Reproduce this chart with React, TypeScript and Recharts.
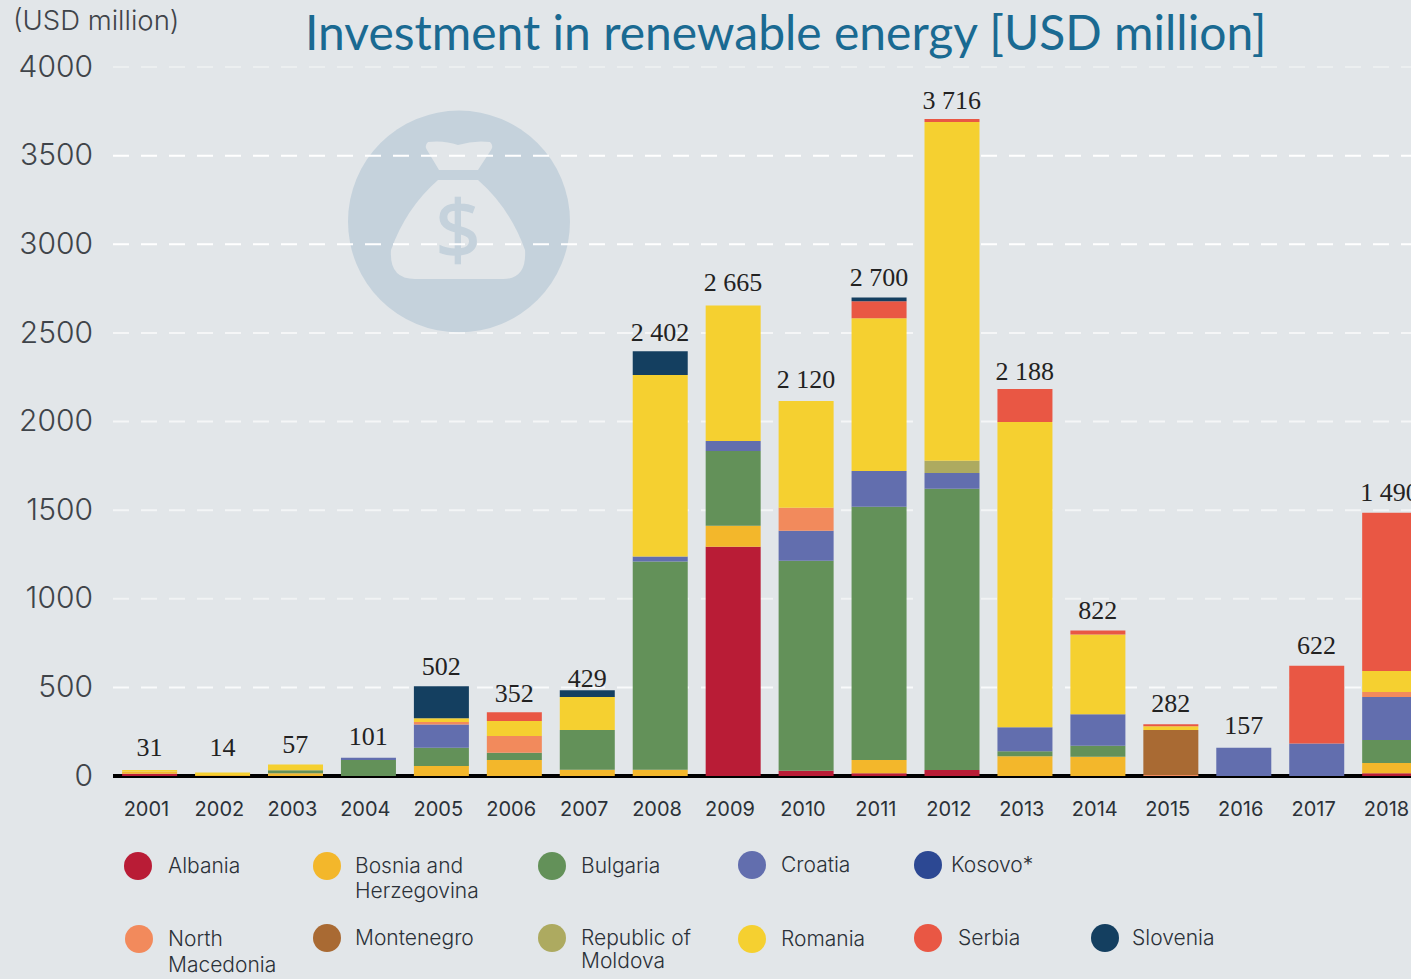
import { ComposedChart, Bar, Line, XAxis, YAxis, CartesianGrid, LabelList } from "recharts";

const years = ["2001","2002","2003","2004","2005","2006","2007","2008","2009","2010","2011","2012","2013","2014","2015","2016","2017","2018"];
const totals = ["31","14","57","101","502","352","429","2 402","2 665","2 120","2 700","3 716","2 188","822","282","157","622","1 490"];
// height the total label sits at
const labelAt = [112,112,132,175,570,417,503,2454,2735,2190,2765,3763,2232,885,362,237,690,1550];

const albania = [12,0,0,0,0,0,0,0,1294,30,15,34,0,0,0,0,0,15];
const bosnia = [14,6,15,0,56,90,35,35,118,0,75,0,112,109,0,0,0,58];
const bulgaria = [0,0,18,90,103,41,224,1175,422,1185,1429,1586,28,61,0,0,0,130];
const croatia = [0,0,0,13,132,0,0,28,56,169,202,90,135,179,0,159,184,243];
const kosovo = [0,0,0,0,0,0,0,0,0,0,0,0,0,0,0,0,0,0];
const macedonia = [0,0,0,0,14,94,0,0,0,129,0,0,0,0,5,0,0,28];
const montenegro = [0,0,0,0,0,0,0,0,0,0,0,0,0,0,255,0,0,0];
const moldova = [0,0,0,0,0,0,0,0,0,0,0,68,0,0,0,0,0,0];
const romania = [8,14,32,0,21,86,186,1024,765,602,861,1912,1722,450,20,0,0,118];
const serbia = [0,0,0,0,0,49,0,0,0,0,96,17,186,22,12,0,438,893];
const slovenia = [0,0,0,0,180,0,39,135,0,0,22,0,0,0,0,0,0,0];

const yTicks = [0,500,1000,1500,2000,2500,3000,3500,4000];
// the white gridlines fade unevenly in the scan
const gridOpacity = [0,0.8,0.5,0.6,0.65,0.65,1,1,0.35];

const series = [
  { key: "albania", name: "Albania", values: albania, color: "#b91c36" },
  { key: "bosnia", name: "Bosnia and\nHerzegovina", values: bosnia, color: "#f3b72b" },
  { key: "bulgaria", name: "Bulgaria", values: bulgaria, color: "#639159" },
  { key: "croatia", name: "Croatia", values: croatia, color: "#626eae" },
  { key: "kosovo", name: "Kosovo*", values: kosovo, color: "#2c4893" },
  { key: "macedonia", name: "North\nMacedonia", values: macedonia, color: "#f28a5c" },
  { key: "montenegro", name: "Montenegro", values: montenegro, color: "#a96a33" },
  { key: "moldova", name: "Republic of\nMoldova", values: moldova, color: "#adaa60" },
  { key: "romania", name: "Romania", values: romania, color: "#f5d030" },
  { key: "serbia", name: "Serbia", values: serbia, color: "#e95744" },
  { key: "slovenia", name: "Slovenia", values: slovenia, color: "#143f60" },
];

// circle x, circle y, text x, line gap
const legendPos: Record<string, [number, number, number, number]> = {
  albania: [138, 866, 168, 25],
  bosnia: [327, 866, 355, 25],
  bulgaria: [552, 866, 581, 25],
  croatia: [752, 865, 781, 25],
  kosovo: [928, 865, 951, 25],
  macedonia: [139, 939, 168, 26],
  montenegro: [327, 938, 355, 25],
  moldova: [552, 938, 581, 23],
  romania: [752, 939, 781, 25],
  serbia: [928, 938, 958, 25],
  slovenia: [1105, 938, 1132, 25],
};

const data = years.map((year, i) => {
  const row: Record<string, any> = { year, labelAt: labelAt[i], total: totals[i] };
  series.forEach((s) => (row[s.key] = s.values[i]));
  return row;
});

const BG = "#e2e6e9";
const BADGE = "#c5d2dc";
const SANS = "Inter, 'Noto Sans', sans-serif";

function Backdrop() {
  return (
    <svg width={1411} height={979} style={{ position: "absolute", left: 0, top: 0 }}>
      <circle cx={459} cy={221.5} r={111} fill={BADGE} />
      <path
        d="M428 142 Q444 140 458 145 Q474 140 490 142 Q494 146 491 150 L478 170 L439 170 L427 150 Q424 146 428 142 Z"
        fill={BG}
      />
      <path
        d="M438 180 L478 180 Q510 208 525 250 Q527 279 503 279 L415 279 Q389 279 391 250 Q406 208 438 180 Z"
        fill={BG}
      />
      <text
        x={458}
        y={259}
        textAnchor="middle"
        fontFamily="'Open Sans', sans-serif"
        fontSize={80}
        fill={BADGE}
        stroke={BADGE}
        strokeWidth={1.5}
      >
        $
      </text>
      <text x={13} y={30} fontFamily={SANS} fontSize={27.5} fontWeight={300} fill="#3f444a">
        (USD million)
      </text>
      <text x={305} y={50} fontFamily="Lato, sans-serif" fontSize={48} fill="#1a6a92">
        Investment in renewable energy [USD million]
      </text>
      {series.map((s) => {
        const [cx, cy, tx, gap] = legendPos[s.key];
        const lines = s.name.split("\n");
        return (
          <g key={s.key}>
            <circle cx={cx} cy={cy} r={14} fill={s.color} />
            {lines.map((line, i) => (
              <text key={line} x={tx} y={cy + 7 + i * gap} fontFamily={SANS} fontSize={21} fontWeight={300} fill="#2b3138">
                {line}
              </text>
            ))}
          </g>
        );
      })}
    </svg>
  );
}

function GridLine(props: any) {
  return (
    <line
      x1={props.x1}
      y1={props.y1}
      x2={props.x2}
      y2={props.y2}
      stroke="#ffffff"
      strokeWidth={2}
      strokeDasharray="16 12"
      strokeOpacity={gridOpacity[props.index]}
    />
  );
}

export default function App() {
  return (
    <div style={{ position: "absolute", left: 0, top: 0, width: 1411, height: 979, overflow: "hidden", background: BG }}>
      <Backdrop />
      <div style={{ position: "absolute", left: 0, top: 0 }}>
        <ComposedChart
          width={1440}
          height={840}
          data={data}
          barCategoryGap="12.5%"
          margin={{ top: 67, right: 14, bottom: 0, left: 0 }}
        >
          <CartesianGrid vertical={false} horizontal={GridLine} />
          <XAxis
            dataKey="year"
            interval={0}
            height={64}
            zIndex={0}
            axisLine={{ stroke: "#000000", strokeWidth: 4 }}
            tickLine={false}
            tickMargin={20}
            dx={-3}
            tick={{ fontFamily: SANS, fontSize: 20, fontWeight: 400, fill: "#2b3138" }}
          />
          <YAxis
            width={113}
            domain={[0, 4000]}
            ticks={yTicks}
            axisLine={false}
            tickLine={false}
            tickMargin={14}
            dy={-1}
            tick={{ fontFamily: SANS, fontSize: 30, fontWeight: 300, fill: "#3f444a" }}
          />
          {series.map((s) => (
            <Bar key={s.key} dataKey={s.key} stackId="a" fill={s.color} isAnimationActive={false} />
          ))}
          <Line dataKey="labelAt" stroke="none" dot={false} activeDot={false} isAnimationActive={false}>
            <LabelList
              dataKey="total"
              position="top"
              offset={0}
              style={{ fontFamily: "'Liberation Serif', serif", fontSize: 26, fill: "#222222" }}
            />
          </Line>
        </ComposedChart>
      </div>
    </div>
  );
}
